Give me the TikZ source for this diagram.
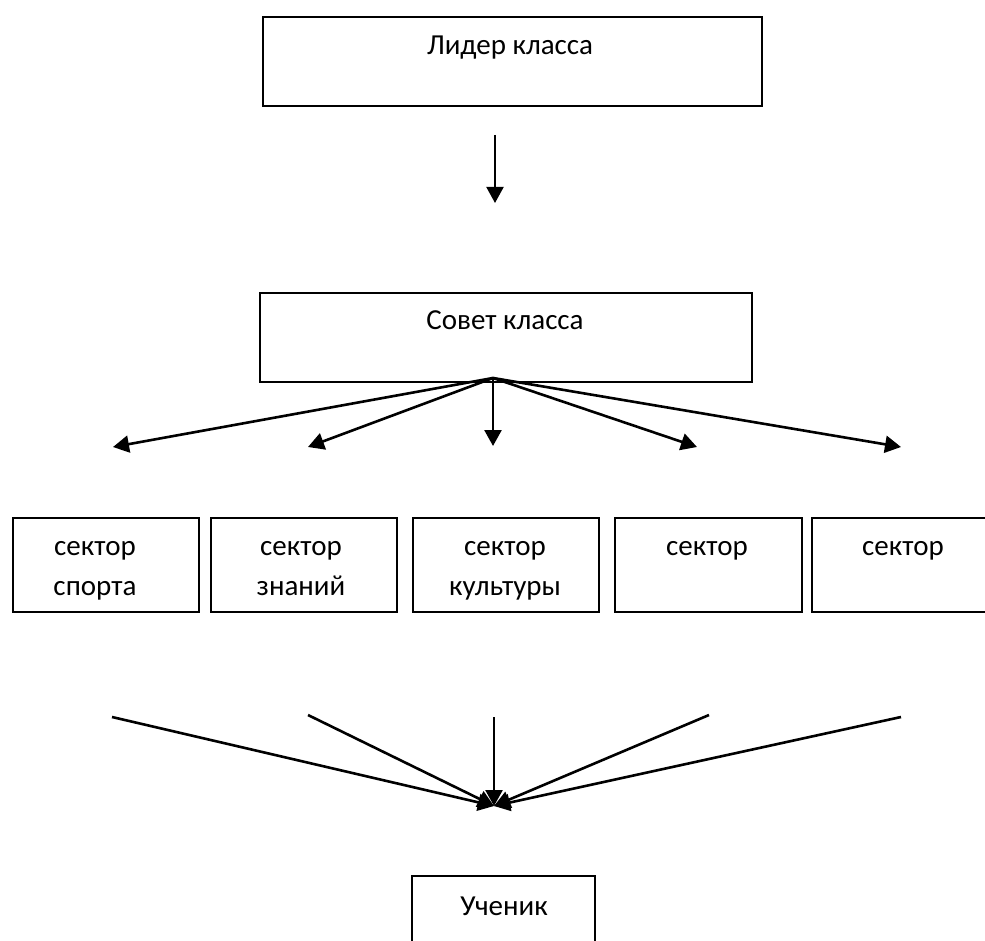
\documentclass[tikz,border=0pt]{standalone}
\usepackage{fontspec}
\setmainfont{Carlito}
\usetikzlibrary{arrows.meta}
\begin{document}
\begin{tikzpicture}[x=1pt,y=-1pt,
  box/.style={draw,line width=1.8pt,rectangle,inner sep=0pt,anchor=north west},
  lbl/.style={anchor=base,inner sep=0pt,font=\fontsize{29}{35}\selectfont},
  arr/.style={line width=2.6pt,-{Triangle[length=16pt,width=17pt]}},
]
\useasboundingbox (0,0) rectangle (985,941);
\clip (0,0) rectangle (985,941);
\fill[white] (0,0) rectangle (985,941);

% top box
\node[box,minimum width=499pt,minimum height=89pt] (lider) at (262,16) {};
\node[lbl] (liderT) at (510,55) {Лидер класса};
\coordinate (a1s) at (495,135);
\coordinate (a1e) at (495,203);
\draw[arr,line width=2pt] (a1s) -- (a1e);

% council
\node[box,minimum width=492pt,minimum height=89pt] (sovet) at (259,292) {};
\node[lbl] (sovetT) at (505,330) {Совет класса};
\coordinate (fan) at (493,378);
\coordinate (t1) at (113,447);
\coordinate (t2) at (308,447);
\coordinate (t3) at (493,446);
\coordinate (t4) at (697,447);
\coordinate (t5) at (901,447);
\foreach \t in {t1,t2,t3,t4,t5} \draw[arr] (fan) -- (\t);

% sectors
\node[box,minimum width=186pt,minimum height=94pt] (s1) at (12,517) {};
\node[box,minimum width=186pt,minimum height=94pt] (s2) at (210,517) {};
\node[box,minimum width=186pt,minimum height=94pt] (s3) at (412,517) {};
\node[box,minimum width=187pt,minimum height=94pt] (s4) at (614,517) {};
\node[box,minimum width=187pt,minimum height=94pt] (s5) at (811,517) {};
\node[lbl] (s1a) at (95,555) {сектор};
\node[lbl] (s1b) at (95,595) {спорта};
\node[lbl] (s2a) at (301,555) {сектор};
\node[lbl] (s2b) at (301,595) {знаний};
\node[lbl] (s3a) at (505,555) {сектор};
\node[lbl] (s3b) at (505,595) {культуры};
\node[lbl] (s4a) at (707,555) {сектор};
\node[lbl] (s5a) at (903,555) {сектор};

% bottom arrows
\coordinate (m) at (494,806);
\coordinate (b1) at (112,717);
\coordinate (b2) at (308,715);
\coordinate (b3) at (494,717);
\coordinate (b4) at (709,715);
\coordinate (b5) at (901,717);
\foreach \b in {b1,b2,b3,b4,b5} \draw[arr] (\b) -- (m);

% pupil box (cut off at bottom)
\coordinate (u1) at (412,960);
\coordinate (u2) at (412,876);
\coordinate (u3) at (595,876);
\coordinate (u4) at (595,960);
\draw[line width=1.8pt] (u1) -- (u2) -- (u3) -- (u4);
\node[lbl] (uchT) at (504,915) {Ученик};
\end{tikzpicture}
\end{document}
